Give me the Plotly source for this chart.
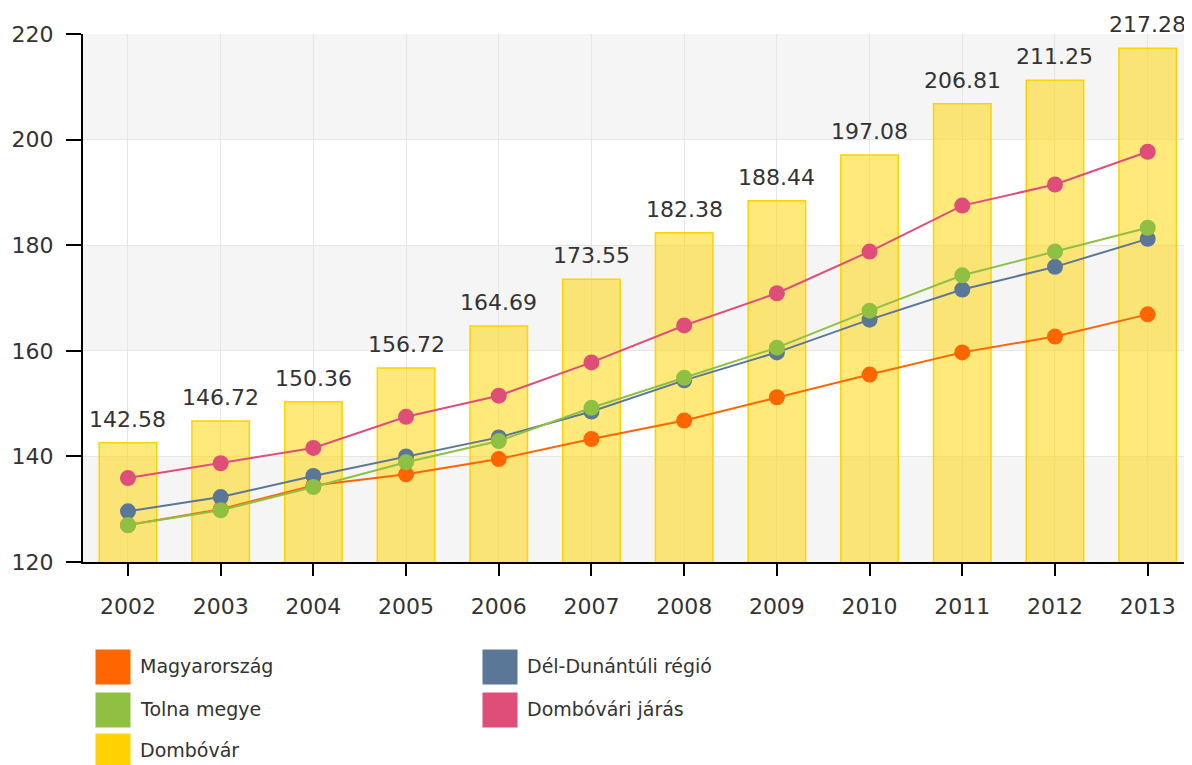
import plotly.graph_objects as go

years = ["2002", "2003", "2004", "2005", "2006", "2007", "2008", "2009", "2010", "2011", "2012", "2013"]
dombovar = [142.58, 146.72, 150.36, 156.72, 164.69, 173.55, 182.38, 188.44, 197.08, 206.81, 211.25, 217.28]
magyarorszag = [127.0, 130.0, 134.5, 136.6, 139.5, 143.3, 146.8, 151.2, 155.5, 159.7, 162.7, 166.9]
del_dunantul = [129.6, 132.3, 136.3, 140.0, 143.6, 148.5, 154.4, 159.7, 165.9, 171.6, 175.9, 181.2]
tolna = [127.0, 129.8, 134.2, 138.9, 142.9, 149.2, 154.9, 160.6, 167.6, 174.3, 178.8, 183.3]
dombovari_jaras = [135.9, 138.7, 141.6, 147.5, 151.5, 157.8, 164.8, 170.9, 178.8, 187.5, 191.5, 197.7]

colors = {
    "Magyarország": "#ff6600",
    "Dél-Dunántúli régió": "#5b7797",
    "Tolna megye": "#8fc043",
    "Dombóvári járás": "#df4d79",
    "Dombóvár": "#ffd200",
}

FONT = "DejaVu Sans"
TXT = "#333333"
OFF = 8                      # default body margin of the page
PAGE_W, PAGE_H = 1192, 765
W, H = PAGE_W - OFF, PAGE_H - OFF
L, T, B = 83, 34, 562        # plot area bounds in page pixels
PW, PH = PAGE_W - L, B - T

fig = go.Figure()

fig.add_trace(go.Bar(
    x=years, y=dombovar, name="Dombóvár",
    marker=dict(color="rgba(255,212,0,0.52)", line=dict(color="#ffd200", width=1.5)),
    width=0.62, showlegend=False,
))

series = [
    ("Magyarország", magyarorszag),
    ("Dél-Dunántúli régió", del_dunantul),
    ("Tolna megye", tolna),
    ("Dombóvári járás", dombovari_jaras),
]
for name, vals in series:
    fig.add_trace(go.Scatter(
        x=years, y=vals, name=name, mode="lines+markers",
        line=dict(color=colors[name], width=2),
        marker=dict(color=colors[name], size=16),
        showlegend=False, cliponaxis=False,
    ))

# value labels above the bars (category index positions on the x axis)
annotations = []
for i, v in enumerate(dombovar):
    annotations.append(dict(x=i, y=v, xref="x", yref="y", text=f"{v:.2f}", showarrow=False,
                            yanchor="bottom", xanchor="center", yshift=9,
                            font=dict(family=FONT, size=22, color=TXT)))

# alternating background bands
shapes = []
for lo in [120, 160, 200]:
    shapes.append(dict(type="rect", xref="paper", yref="y", x0=0, x1=1, y0=lo, y1=lo + 20,
                       fillcolor="#f5f5f5", line=dict(width=0), layer="below"))

# manual legend (page pixel positions converted to paper coordinates)
legend_pos = [
    (95, 649, "Magyarország"),
    (482, 649, "Dél-Dunántúli régió"),
    (95, 692, "Tolna megye"),
    (482, 692, "Dombóvári járás"),
    (95, 733, "Dombóvár"),
]
for px, py, name in legend_pos:
    shapes.append(dict(type="rect", xref="paper", yref="paper",
                       x0=(px - L) / PW, x1=(px + 36 - L) / PW,
                       y0=(B - (py + 36)) / PH, y1=(B - py) / PH,
                       fillcolor=colors[name], line=dict(color="white", width=1)))
    annotations.append(dict(xref="paper", yref="paper", x=(px + 43 - L) / PW, y=(B - (py + 17)) / PH,
                            text=name, showarrow=False, xanchor="left", yanchor="middle",
                            font=dict(family=FONT, size=19, color=TXT)))

fig.update_layout(
    width=W, height=H,
    margin=dict(l=L - OFF, r=0, t=T - OFF, b=PAGE_H - B, pad=0, autoexpand=False),
    paper_bgcolor="white", plot_bgcolor="white",
    shapes=shapes, annotations=annotations,
    showlegend=False,
    font=dict(family=FONT, size=22, color=TXT),
)
fig.update_xaxes(
    type="category", range=[-0.485, 11.478],
    showline=True, linecolor="black", linewidth=2,
    ticks="outside", ticklen=12, tickcolor="black", tickwidth=2,
    showgrid=True, gridcolor="#e6e6e6", gridwidth=1,
    ticklabelstandoff=12,
    tickfont=dict(family=FONT, size=22, color=TXT),
)
fig.update_yaxes(
    range=[120, 220], tickvals=[120, 140, 160, 180, 200, 220],
    showline=True, linecolor="black", linewidth=2,
    ticks="outside", ticklen=15, tickcolor="black", tickwidth=2,
    showgrid=True, gridcolor="#e6e6e6", gridwidth=1, zeroline=False,
    ticklabelstandoff=8,
    tickfont=dict(family=FONT, size=22, color=TXT),
)

fig.write_html("out.html")
